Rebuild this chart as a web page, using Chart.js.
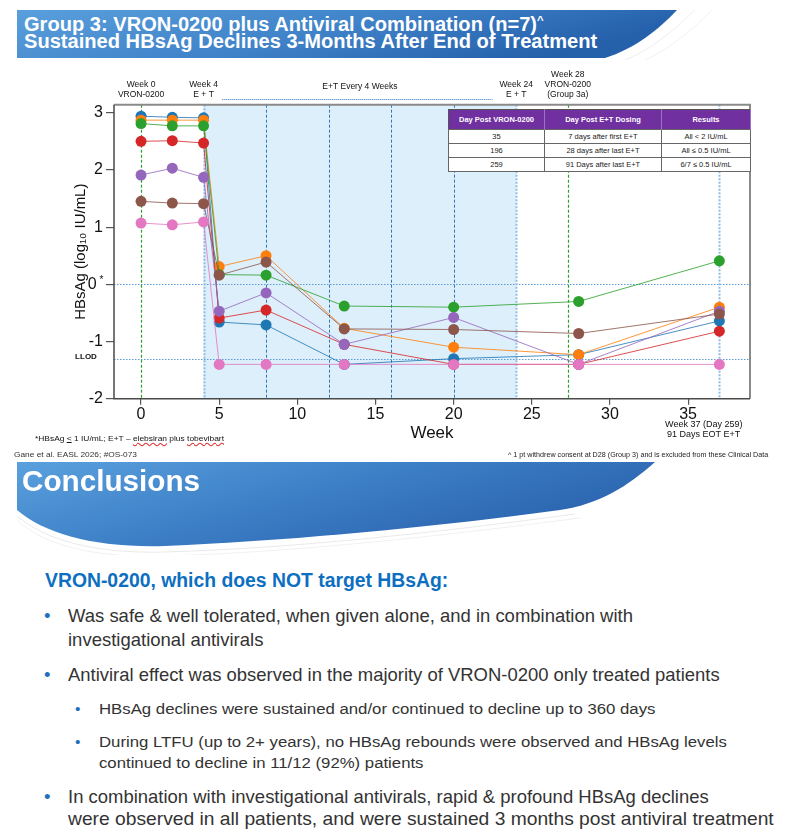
<!DOCTYPE html>
<html>
<head>
<meta charset="utf-8">
<script src="https://cdn.jsdelivr.net/npm/chart.js@4.4.1/dist/chart.umd.min.js"></script>
<style>
  html, body { margin: 0; padding: 0; background: #fff; }
  body { width: 789px; height: 837px; position: relative; overflow: hidden; font-family: "Liberation Sans", Arial, sans-serif; }
  .t { position: absolute; white-space: nowrap; line-height: 1; transform-origin: 0 50%; }
  .banner { position: absolute; left: 0; }
  .white { color: #fff; font-weight: bold; }
  .body { color: #333; }
  .dot { position: absolute; color: #1f6fc0; line-height: 1; }
  .spell { text-decoration: underline wavy #e03030; text-decoration-thickness: 1px; text-underline-offset: 1px; }
  #chartBox { position: absolute; left: 0; top: 60px; }
  #tbl { position: absolute; left: 448px; top: 109px; border-collapse: collapse; background: #fff; z-index: 3;
         font-size: 7.5px; border: 1.5px solid #555; }
  #tbl td, #tbl th { padding: 0; text-align: center; white-space: nowrap; }
  #tbl th { background: #7030a0; color: #fff; height: 19px; border-right: 1px solid #9b72c4; }
  #tbl td { height: 13px; border: 1px solid #666; color: #222; }
</style>
</head>
<body>

<svg class="banner" style="top:0" width="789" height="64">
  <defs>
    <linearGradient id="g1" x1="0" y1="0" x2="1" y2="0.3">
      <stop offset="0" stop-color="#5a9fdc"/>
      <stop offset="0.55" stop-color="#3f82c8"/>
      <stop offset="1" stop-color="#2560ab"/>
    </linearGradient>
  </defs>
  <path d="M695 10 C672 32 650 50 625 60" stroke="#eeeeee" fill="none"/>
  <path d="M712 10 C690 32 668 50 645 60" stroke="#f3f3f3" fill="none"/>
  <path d="M17 10 H677 C658 30 636 48 605 58 H17 Z" fill="url(#g1)"/>
</svg>
<div class="t white" data-w="520" style="left:24px; top:15px; font-size:19.5px">Group 3: VRON-0200 plus Antiviral Combination (n=7)<span style="font-size:11px; vertical-align:7px">^</span></div>
<div class="t white" data-w="573" style="left:24px; top:32px; font-size:19.5px">Sustained HBsAg Declines 3-Months After End of Treatment</div>

<div id="chartBox"><canvas id="c" width="789" height="400"></canvas></div>
<table id="tbl"></table>

<div class="t" data-w="189" style="left:35px; top:435px; font-size:8px; color:#111">*HBsAg <u>&lt;</u> 1 IU/mL; E+T – <span class="spell">elebsiran</span> plus <span class="spell">tobevibart</span></div>
<div class="t" data-w="123" style="left:14px; top:451px; font-size:8px; color:#333">Gane et al. EASL 2026; #OS-073</div>
<div class="t" data-w="260" style="left:508px; top:450.5px; font-size:7px; color:#222">^ 1 pt withdrew consent at D28 (Group 3) and is excluded from these Clinical Data</div>

<svg class="banner" style="top:455px" width="789" height="100" viewBox="0 455 789 100">
  <defs>
    <linearGradient id="g2" x1="0" y1="0" x2="1" y2="0.5">
      <stop offset="0" stop-color="#5aa0dd"/>
      <stop offset="0.5" stop-color="#3d80c7"/>
      <stop offset="1" stop-color="#2a62ad"/>
    </linearGradient>
  </defs>
  <path d="M17 516 C45 540 95 554 165 552 C300 548 440 532 575 514" stroke="#e9e9e9" fill="none"/>
  <path d="M17 520 C45 546 95 558 165 556 C300 552 440 536 580 518" stroke="#f1f1f1" fill="none"/>
  <path d="M17 462 H655 C628 486 600 504 560 510 C440 526 300 540 165 546 C95 548 45 534 17 510 Z" fill="url(#g2)"/>
</svg>
<div class="t white" data-w="178" style="left:22px; top:466px; font-size:30px">Conclusions</div>

<div class="t" data-w="403" style="left:45px; top:570.5px; font-size:19.5px; font-weight:bold; color:#0d6fc0">VRON-0200, which does NOT target HBsAg:</div>

<div class="dot" style="left:44px; top:607px; font-size:18.5px">•</div>
<div class="t body" data-w="565" style="left:68px; top:607px; font-size:18.5px">Was safe &amp; well tolerated, when given alone, and in combination with</div>
<div class="t body" data-w="195" style="left:68px; top:631px; font-size:18.5px">investigational antivirals</div>

<div class="dot" style="left:44px; top:666px; font-size:18.5px">•</div>
<div class="t body" data-w="652" style="left:68px; top:666px; font-size:18.5px">Antiviral effect was observed in the majority of VRON-0200 only treated patients</div>

<div class="dot" style="left:75px; top:700.5px; font-size:15.5px">•</div>
<div class="t body" data-w="556" style="left:99px; top:700.5px; font-size:15.5px">HBsAg declines were sustained and/or continued to decline up to 360 days</div>

<div class="dot" style="left:75px; top:733.5px; font-size:15.5px">•</div>
<div class="t body" data-w="628" style="left:99px; top:733.5px; font-size:15.5px">During LTFU (up to 2+ years), no HBsAg rebounds were observed and HBsAg levels</div>
<div class="t body" data-w="324" style="left:99px; top:754.5px; font-size:15.5px">continued to decline in 11/12 (92%) patients</div>

<div class="dot" style="left:44px; top:788px; font-size:18.5px">•</div>
<div class="t body" data-w="641" style="left:68px; top:788px; font-size:18.5px">In combination with investigational antivirals, rapid &amp; profound HBsAg declines</div>
<div class="t body" data-w="706" style="left:68px; top:810px; font-size:18.5px">were observed in all patients, and were sustained 3 months post antiviral treatment</div>

<script>
// data
const weeks = [0, 2, 4, 5, 8, 13, 20, 28, 37];
const pt1 = [2.94, 2.92, 2.91, -0.66, -0.71, -1.40, -1.30, -1.23, -0.64];
const pt2 = [2.87, 2.87, 2.87, 0.31, 0.50, -0.77, -1.10, -1.23, -0.40];
const pt3 = [2.81, 2.77, 2.77, 0.17, 0.16, -0.38, -0.40, -0.30, 0.41];
const pt4 = [2.50, 2.51, 2.47, -0.59, -0.45, -1.05, -1.40, -1.40, -0.82];
const pt5 = [1.91, 2.03, 1.87, -0.47, -0.15, -1.05, -0.58, -1.40, -0.47];
const pt6 = [1.45, 1.42, 1.41, 0.16, 0.39, -0.78, -0.79, -0.86, -0.52];
const pt7 = [1.07, 1.04, 1.09, -1.40, -1.40, -1.40, -1.40, -1.40, -1.40];
const patients = [pt1, pt2, pt3, pt4, pt5, pt6, pt7];
const colors = ['#1f77b4', '#ff7f0e', '#2ca02c', '#d62728', '#9467bd', '#8c564b', '#e377c2'];

const xTicks = [0, 5, 10, 15, 20, 25, 30, 35];
const yTicks = [3, 2, 1, 0, -1, -2];
const yTickLabels = ['3', '2', '1', '0\u2009\u2009', '-1', '-2'];
const llod = -1.3;
const dosingWindow = [4, 24];
const greenLines = [0, 27.3];
const dashLines = [8, 12, 16, 20];
const paleLines = [4, 24, 37];
const topLabels = [
  [0, ['Week 0', 'VRON-0200']],
  [4, ['Week 4', 'E + T']],
  [14, ['E+T Every 4 Weeks']],
  [24, ['Week 24', 'E + T']],
  [27.3, ['Week 28', 'VRON-0200', '(Group 3a)']]
];
const etSpan = [5.2, 22.5];
const bottomLabel = [36, ['Week 37 (Day 259)', '91 Days EOT E+T']];

const tableHead = ['Day Post VRON-0200', 'Day Post E+T Dosing', 'Results'];
const tableRows = [
  ['35', '7 days after first E+T', 'All < 2 IU/mL'],
  ['196', '28 days after last E+T', 'All ≤ 0.5 IU/mL'],
  ['259', '91 Days after last E+T', '6/7 ≤ 0.5 IU/mL']
];

// table
const tbl = document.getElementById('tbl');
const colW = [95, 116, 88];
tbl.innerHTML = '<tr>' + tableHead.map((h, i) => `<th style="width:${colW[i]}px">${h}</th>`).join('') + '</tr>' +
  tableRows.map(r => '<tr>' + r.map(c => `<td>${c.replace('<', '&lt;')}</td>`).join('') + '</tr>').join('');

// squeeze text lines to the widths on the slide
document.querySelectorAll('[data-w]').forEach(el => {
  el.style.transform = `scaleX(${el.dataset.w / el.offsetWidth})`;
});

Chart.defaults.font.family = '"Liberation Sans", Arial, sans-serif';
Chart.defaults.color = '#111';

const decor = {
  id: 'decor',
  beforeDatasetsDraw(chart) {
    const { ctx, chartArea: a, scales: { x, y } } = chart;
    ctx.save();
    const x0 = x.getPixelForValue(dosingWindow[0]), x1 = x.getPixelForValue(dosingWindow[1]);
    ctx.fillStyle = '#ddeffa';
    ctx.fillRect(x0, a.top, x1 - x0, a.bottom - a.top);

    const vline = (w, color, width, dash) => {
      const px = Math.round(x.getPixelForValue(w)) + 0.5;
      ctx.strokeStyle = color; ctx.lineWidth = width; ctx.setLineDash(dash);
      ctx.beginPath(); ctx.moveTo(px, a.top); ctx.lineTo(px, a.bottom); ctx.stroke();
    };
    const hline = (v) => {
      const py = Math.round(y.getPixelForValue(v)) + 0.5;
      ctx.strokeStyle = '#5b9bd5'; ctx.lineWidth = 1; ctx.setLineDash([1.5, 1.5]);
      ctx.beginPath(); ctx.moveTo(a.left, py); ctx.lineTo(a.right, py); ctx.stroke();
    };
    hline(0);
    hline(llod);
    paleLines.forEach(w => vline(w, '#8fbde6', 2, [2, 1.5]));
    dashLines.forEach(w => vline(w, '#2f76bd', 1, [3, 2]));
    greenLines.forEach(w => vline(w, '#2ca02c', 1.2, [3, 2]));
    ctx.restore();
  },
  afterDatasetsDraw(chart) {
    const { ctx, chartArea: a } = chart;
    ctx.save();
    ctx.setLineDash([]);
    ctx.strokeStyle = '#8a8a8a'; ctx.lineWidth = 2;
    ctx.beginPath(); ctx.moveTo(a.left, a.top); ctx.lineTo(a.right, a.top); ctx.lineTo(a.right, a.bottom); ctx.stroke();
    ctx.strokeStyle = '#4a4a4a'; ctx.lineWidth = 1.5;
    ctx.beginPath(); ctx.moveTo(a.left, a.top); ctx.lineTo(a.left, a.bottom); ctx.lineTo(a.right, a.bottom); ctx.stroke();
    ctx.restore();
  },
  afterDraw(chart) {
    const { ctx, chartArea: a, scales: { x, y } } = chart;
    ctx.save();
    ctx.fillStyle = '#111';
    ctx.textAlign = 'center';
    ctx.textBaseline = 'middle';
    ctx.font = '8.5px "Liberation Sans", Arial, sans-serif';
    topLabels.forEach(([w, lines]) => {
      const px = x.getPixelForValue(w);
      const last = lines.length === 1 ? 27 : 35;
      lines.forEach((s, i) => ctx.fillText(s, px, last - (lines.length - 1 - i) * 10));
    });
    // dotted span under "E+T Every 4 Weeks"
    ctx.strokeStyle = '#2f76bd'; ctx.lineWidth = 1; ctx.setLineDash([1, 1]);
    ctx.beginPath();
    ctx.moveTo(x.getPixelForValue(etSpan[0]), 39.5);
    ctx.lineTo(x.getPixelForValue(etSpan[1]), 39.5);
    ctx.stroke();

    ctx.font = '9px "Liberation Sans", Arial, sans-serif';
    bottomLabel[1].forEach((s, i) => ctx.fillText(s, x.getPixelForValue(bottomLabel[0]), a.bottom + 26 + i * 10));

    ctx.font = 'bold 8px "Liberation Sans", Arial, sans-serif';
    ctx.fillText('LLOD', 86, y.getPixelForValue(llod) - 2);

    // superscript asterisk on the zero tick
    ctx.font = '10px "Liberation Sans", Arial, sans-serif';
    ctx.textAlign = 'left';
    ctx.fillText('*', 99.5, y.getPixelForValue(0) - 4);
    ctx.restore();
  }
};

new Chart(document.getElementById('c'), {
  type: 'line',
  data: {
    datasets: patients.map((vals, i) => ({
      label: 'Patient ' + (i + 1),
      data: weeks.map((w, j) => ({ x: w, y: vals[j] })),
      borderColor: colors[i] + 'd0',
      backgroundColor: colors[i],
      pointBackgroundColor: colors[i],
      pointBorderColor: colors[i],
      borderWidth: 1,
      pointRadius: 5.5,
      pointBorderWidth: 0,
      tension: 0,
      order: patients.length - i
    }))
  },
  options: {
    responsive: false,
    animation: false,
    layout: { padding: { left: 0, top: 44.7, right: 39, bottom: 0 } },
    plugins: { legend: { display: false }, tooltip: { enabled: false } },
    scales: {
      x: {
        type: 'linear',
        min: -1.73,
        max: 38.96,
        afterBuildTicks: s => { s.ticks = xTicks.map(v => ({ value: v })); },
        afterFit: s => { s.height = 61.3; },
        border: { display: false },
        grid: { drawOnChartArea: false, tickLength: 6, color: '#555', lineWidth: 1.2 },
        ticks: { font: { size: 16 }, color: '#111', padding: 0, maxRotation: 0, autoSkip: false },
        title: { display: true, text: 'Week', font: { size: 17 }, color: '#111', padding: { top: 0, bottom: 16 } }
      },
      y: {
        min: -2,
        max: 3.14,
        afterBuildTicks: s => { s.ticks = yTicks.map(v => ({ value: v })); },
        afterFit: s => { s.width = 114; },
        border: { display: false },
        grid: { drawOnChartArea: false, tickLength: 8, color: '#555', lineWidth: 1.2 },
        ticks: { font: { size: 16 }, color: '#111', padding: 3, callback: (v, i) => yTickLabels[i] },
        title: { display: true, text: 'HBsAg (log₁₀ IU/mL)', font: { size: 15 }, color: '#111', padding: { top: 72, bottom: 0 } }
      }
    }
  },
  plugins: [decor]
});
</script>
</body>
</html>
